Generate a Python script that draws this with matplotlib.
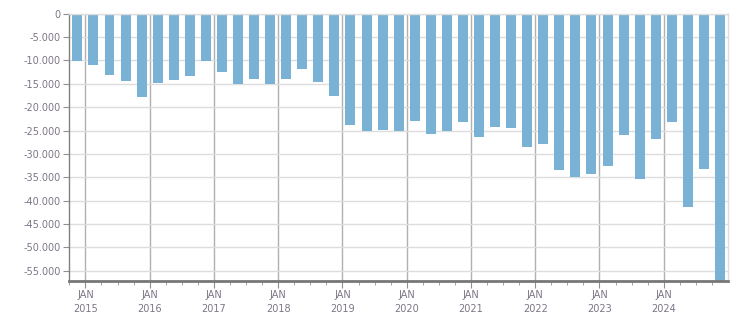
import matplotlib.pyplot as plt
from matplotlib.ticker import FuncFormatter, FixedLocator

quarters = ['2014Q4'] + [f'{y}Q{q}' for y in range(2015, 2025) for q in range(1, 5)]
values = [
    -10050, -10900, -13050, -14350, -17750, -14750, -14150, -13250,
    -10100, -12400, -14950, -13900, -14950, -13900, -11750, -14550,
    -17550, -23750, -25050, -24800, -25050, -22900, -25700, -25050,
    -23100, -26300, -24200, -24400, -28450, -27800, -33400, -34900,
    -34250, -32500, -25900, -35300, -26750, -23100, -41300, -33150,
    -57500,
]
years = list(range(2015, 2025))
year_labels = [f'JAN\n{y}' for y in years]

bar_color = '#79b2d4'
text_color = '#7d7585'


def quarter_pos(s):
    y, q = s.split('Q')
    return int(y) + (int(q) - 1) * 0.25 + 0.125


xs = [quarter_pos(s) for s in quarters]

fig = plt.figure(figsize=(7.51, 3.13), dpi=100)
ax = fig.add_axes([0.0923, 0.1032, 0.8771, 0.853])

ax.bar(xs, values, width=0.155, color=bar_color, zorder=2)

ax.set_xlim(2014.75, 2025.0)
ax.set_ylim(-57150, 0)

ax.yaxis.set_major_locator(FixedLocator(range(0, -57000, -5000)))
ax.yaxis.set_major_formatter(FuncFormatter(lambda v, p: f'{int(v):,}'.replace(',', '.')))
ax.xaxis.set_major_locator(FixedLocator(years))
ax.xaxis.set_minor_locator(FixedLocator([y + q * 0.25 for y in range(2014, 2025) for q in range(4)]))
ax.set_xticklabels(year_labels)

ax.grid(axis='y', color='#dddddd', linewidth=1, zorder=0)
ax.grid(axis='x', which='major', color='#b0b0b0', linewidth=1, zorder=0)
ax.set_axisbelow(True)

for side in ['top', 'right']:
    ax.spines[side].set_color('#dddddd')
    ax.spines[side].set_linewidth(1)
ax.spines['left'].set_color('#808080')
ax.spines['left'].set_linewidth(1)
ax.spines['bottom'].set_color('#777777')
ax.spines['bottom'].set_linewidth(2)

ax.tick_params(axis='y', length=4, color='#909090', labelsize=7, labelcolor=text_color, pad=2)
ax.tick_params(axis='x', which='major', length=5, color='#909090', labelsize=7,
               labelcolor=text_color, pad=2)
ax.tick_params(axis='x', which='minor', length=3, color='#909090')
for lbl in ax.get_xticklabels():
    lbl.set_linespacing(1.5)

fig.savefig('out.png', dpi=100)
